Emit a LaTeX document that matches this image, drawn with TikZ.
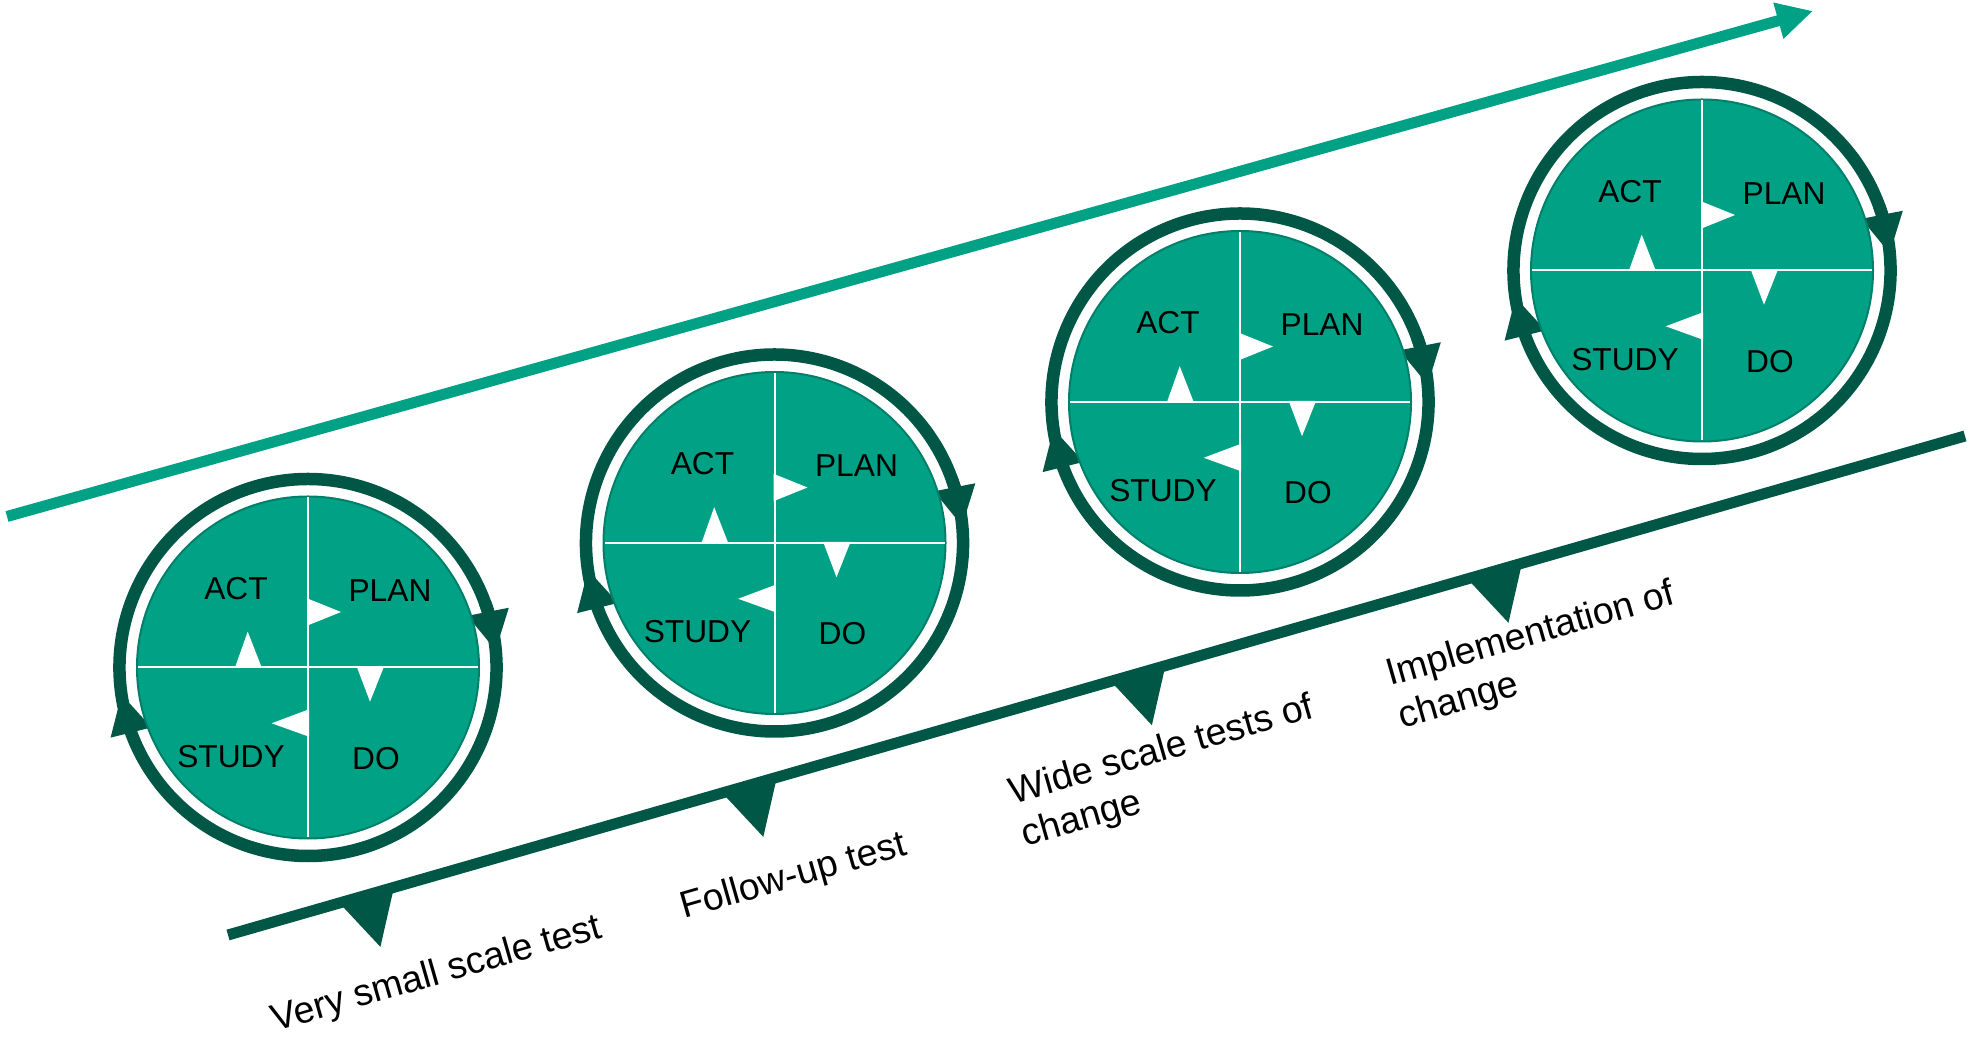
\documentclass[tikz,border=0pt]{standalone}
\usepackage{fontspec}
\setmainfont{Liberation Sans}
\usetikzlibrary{arrows.meta,bending}

\definecolor{pdsaTeal}{RGB}{0,161,133}
\definecolor{pdsaRim}{RGB}{0,128,106}
\definecolor{pdsaDark}{RGB}{0,87,70}

\tikzset{
  ringarc/.style={draw=pdsaDark, line width=12.5bp,
    -{Triangle[length=40bp,width=39bp]}},
  disk/.style={fill=pdsaTeal, draw=pdsaRim, line width=2bp},
  divider/.style={draw=white, line width=2bp},
  pointer/.style={fill=white},
  phase/.style={inner sep=0pt, font=\fontsize{31.7bp}{38bp}\selectfont},
  stage/.style={inner sep=0pt, rotate=16, align=left,
    font=\fontsize{37.5bp}{44bp}\selectfont},
  marker/.style={fill=pdsaDark},
  progress/.style={draw=pdsaTeal, line width=11bp,
    -{Triangle[length=36bp,width=35bp]}},
  baseline/.style={draw=pdsaDark, line width=11bp},
  % one Plan-Do-Study-Act wheel, centred on the pic origin
  pdsa/.pic={
    \draw[ringarc] (197:188.5bp) arc[start angle=197, end angle=5, radius=188.5bp];
    \draw[ringarc] (20:188.5bp) arc[start angle=20, end angle=-172, radius=188.5bp];
    \path[disk] (0,0) circle[radius=171bp];
    \draw[divider] (-170,0) -- (170,0);
    \draw[divider] (0,-170) -- (0,170);
    \fill[pointer] (-1,69.2) -- (-1,41.8) -- (33,55.5) -- cycle;
    \fill[pointer] (48.7,1) -- (76,1) -- (62,-34.2) -- cycle;
    \fill[pointer] (1,-41.8) -- (1,-69.2) -- (-36.3,-55.8) -- cycle;
    \fill[pointer] (-73,0) -- (-46.3,0) -- (-60.3,35.8) -- cycle;
    \node[phase] (-act)   at (-72,79)  {ACT};
    \node[phase] (-plan)  at (82,77)   {PLAN};
    \node[phase] (-study) at (-77,-89) {STUDY};
    \node[phase] (-do)    at (68,-91)  {DO};
  }
}

\begin{document}
\begin{tikzpicture}[x=1bp, y=1bp]
  \useasboundingbox (0,0) rectangle (1971,1038);

  % rising arrow above the wheels
  \coordinate (up0) at (7,521.5);
  \coordinate (up1) at (1813,1027);
  \draw[progress] (up0) -- (up1);

  % baseline with stage markers
  \begin{scope}[shift={(228,103)}, rotate=16.03]
    \coordinate (b0) at (0,0);
    \coordinate (b1) at (1807.3,0);
    \draw[baseline] (b0) -- (b1);
    \foreach \a in {118.2,516.6,920.9,1291.9}
      \fill[marker] (\a,-4.5) -- (\a+52,-4.5) -- (\a+25,-53.5) -- cycle;
  \end{scope}

  % the four cycles
  \pic (c1) at (308,370.5)  {pdsa};
  \pic (c2) at (774.5,495)  {pdsa};
  \pic (c3) at (1240,636)   {pdsa};
  \pic (c4) at (1702,767.5) {pdsa};

  % stage labels
  \node[stage] (s1) at (437,63)      {Very small scale test};
  \node[stage] (s2) at (794,160.5)   {Follow-up test};
  \node[stage] (s3) at (1168,265.5)  {Wide scale tests of\\change};
  \node[stage] (s4) at (1537,381.3)  {Implementation of\\change};
\end{tikzpicture}
\end{document}
